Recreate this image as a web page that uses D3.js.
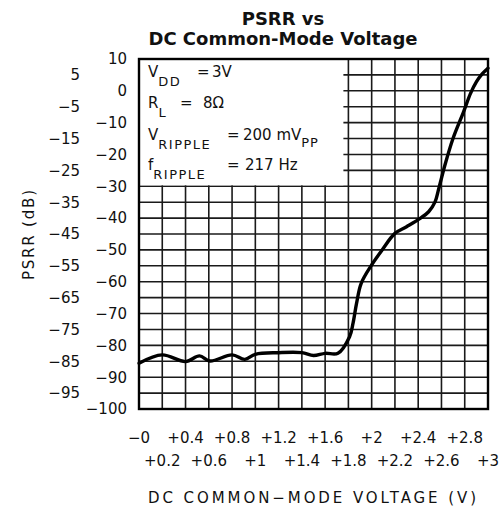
<!DOCTYPE html>
<html>
<head>
<meta charset="utf-8">
<script src="https://cdn.jsdelivr.net/npm/d3@7"></script>
<style>
  html, body { margin: 0; padding: 0; background: #fff; }
  svg { display: block; }
  text { font-family: "DejaVu Sans", sans-serif; fill: #111; }
</style>
</head>
<body>
<svg id="chart" width="504" height="508"></svg>
<script>
// Measured PSRR against DC common-mode voltage
const voltage = [0, 0.2, 0.4, 0.52, 0.61, 0.8, 0.91, 1.0, 1.2, 1.4, 1.5, 1.6, 1.71,
  1.81, 1.84, 1.87, 1.91, 2.0, 2.09, 2.2, 2.3, 2.42, 2.49, 2.545, 2.575, 2.63, 2.7, 2.79, 2.85, 2.9, 2.95, 3.0];
const psrr = [-85.6, -83.0, -85.1, -83.3, -84.9, -83.0, -84.4, -82.8, -82.3, -82.3, -83.2, -82.5, -82.5,
  -77.3, -73.0, -66.8, -60.5, -54.7, -50.0, -44.8, -42.7, -40.0, -38.0, -34.9, -31.0, -23.3, -14.9, -6.6, -0.8, 2.8, 5.3, 7.1];

const yTicksRight = [10, 0, -10, -20, -30, -40, -50, -60, -70, -80, -90, -100];
const yTicksLeft = [5, -5, -15, -25, -35, -45, -55, -65, -75, -85, -95];
const xTicksTop = [0, 0.4, 0.8, 1.2, 1.6, 2.0, 2.4, 2.8];
const xTicksBottom = [0.2, 0.6, 1.0, 1.4, 1.8, 2.2, 2.6, 3.0];
const xTickText = v => v === 0 ? "\u22120" : "+" + d3.format("~g")(v);
const yTickText = v => v < 0 ? "\u2212" + Math.abs(v) : String(v);

// Test conditions shown in the inset box
const conditions = [
  { main: "V", sub: "DD", eq: "=", val: "3V", eqAt: 197, valAt: 212 },
  { main: "R", sub: "L", eq: "=", val: "8\u03A9", eqAt: 180, valAt: 203 },
  { main: "V", sub: "RIPPLE", eq: "=", val: "200 mV", valSub: "PP", eqAt: 227, valAt: 243 },
  { main: "f", sub: "RIPPLE", eq: "=", val: "217 Hz", eqAt: 227, valAt: 245 }
];

const svg = d3.select("#chart");
const plot = { left: 139, right: 488, top: 59, bottom: 409 };

const x = d3.scaleLinear().domain([0, 3]).range([plot.left, plot.right]);
const y = d3.scaleLinear().domain([10, -100]).range([plot.top, plot.bottom]);

// Grid
const grid = svg.append("g").attr("stroke", "#1a1a1a").attr("stroke-width", 1.6);
grid.selectAll("line.v").data(d3.range(0, 16).map(i => i * 0.2)).join("line")
  .attr("x1", d => x(d)).attr("x2", d => x(d))
  .attr("y1", plot.top).attr("y2", plot.bottom);
grid.selectAll("line.h").data(d3.range(0, 23).map(i => 10 - i * 5)).join("line")
  .attr("x1", plot.left).attr("x2", plot.right)
  .attr("y1", d => y(d)).attr("y2", d => y(d));

// Inset box blanks the grid under the conditions text
svg.append("rect")
  .attr("x", plot.left + 1).attr("y", plot.top + 1)
  .attr("width", x(1.8) - 5 - plot.left - 1)
  .attr("height", y(-30) - 1 - plot.top - 1)
  .attr("fill", "#fff");

// Curve
svg.append("path")
  .datum(voltage.map((v, i) => [v, psrr[i]]))
  .attr("fill", "none").attr("stroke", "#000").attr("stroke-width", 3.4)
  .attr("stroke-linejoin", "round").attr("stroke-linecap", "round")
  .attr("d", d3.line().x(d => x(d[0])).y(d => y(d[1])).curve(d3.curveCatmullRom.alpha(0.5)));

// Frame
svg.append("rect")
  .attr("x", plot.left).attr("y", plot.top)
  .attr("width", plot.right - plot.left).attr("height", plot.bottom - plot.top)
  .attr("fill", "none").attr("stroke", "#000").attr("stroke-width", 2.4);

// Y tick labels in two staggered columns
svg.append("g").selectAll("text").data(yTicksRight).join("text")
  .attr("x", 127).attr("y", d => y(d)).attr("dy", "0.36em")
  .attr("text-anchor", "end").attr("font-size", 15).text(yTickText);
svg.append("g").selectAll("text").data(yTicksLeft).join("text")
  .attr("x", 80).attr("y", d => y(d)).attr("dy", "0.36em")
  .attr("text-anchor", "end").attr("font-size", 15).text(yTickText);

// X tick labels in two staggered rows
svg.append("g").selectAll("text").data(xTicksTop).join("text")
  .attr("x", d => x(d)).attr("y", 443)
  .attr("text-anchor", "middle").attr("font-size", 15).text(xTickText);
svg.append("g").selectAll("text").data(xTicksBottom).join("text")
  .attr("x", d => x(d)).attr("y", 466)
  .attr("text-anchor", "middle").attr("font-size", 15).text(xTickText);

// Axis titles
svg.append("text")
  .attr("x", 148).attr("y", 503).attr("font-size", 15)
  .attr("textLength", 328).attr("lengthAdjust", "spacing")
  .text("DC COMMON\u2212MODE VOLTAGE (V)");
svg.append("text")
  .attr("transform", "translate(34,280) rotate(-90)")
  .attr("font-size", 15)
  .attr("textLength", 90).attr("lengthAdjust", "spacing")
  .text("PSRR (dB)");

// Chart title
svg.append("text")
  .attr("x", 283).attr("y", 24.5).attr("text-anchor", "middle")
  .attr("font-family", "'Liberation Sans', Arial, sans-serif")
  .attr("font-weight", "bold").attr("font-size", 18)
  .text("PSRR vs");
svg.append("text")
  .attr("x", 283).attr("y", 45).attr("text-anchor", "middle")
  .attr("font-family", "'Liberation Sans', Arial, sans-serif")
  .attr("font-weight", "bold").attr("font-size", 18)
  .text("DC Common-Mode Voltage");

// Conditions text
const baselines = [77, 108, 140, 170];
conditions.forEach((c, i) => {
  const t = svg.append("text").attr("y", baselines[i]).attr("font-size", 15);
  t.append("tspan").attr("x", 148).text(c.main);
  t.append("tspan").attr("dy", 9).attr("font-size", 13).attr("letter-spacing", 1.5).text(c.sub);
  t.append("tspan").attr("x", c.eqAt).attr("dy", -9).attr("letter-spacing", 0).text(c.eq);
  t.append("tspan").attr("x", c.valAt).text(c.val);
  if (c.valSub) t.append("tspan").attr("dy", 7).attr("font-size", 13).attr("letter-spacing", 1).text(c.valSub);
});
</script>
</body>
</html>
